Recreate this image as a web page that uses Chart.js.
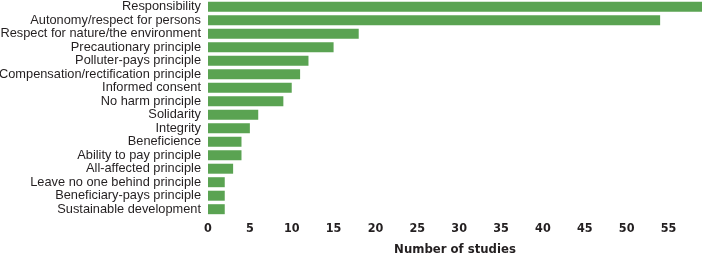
<!DOCTYPE html>
<html>
<head>
<meta charset="utf-8">
<script src="https://cdn.jsdelivr.net/npm/chart.js@4/dist/chart.umd.min.js"></script>
<style>
  html, body { margin: 0; padding: 0; background: #fff; }
  #wrap { width: 703px; height: 255px; }
</style>
</head>
<body>
<div id="wrap"><canvas id="chart"></canvas></div>
<script>
// values
const principles = [
  'Responsibility',
  'Autonomy/respect for persons',
  'Respect for nature/the environment',
  'Precautionary principle',
  'Polluter-pays principle',
  'Compensation/rectification principle',
  'Informed consent',
  'No harm principle',
  'Solidarity',
  'Integrity',
  'Beneficience',
  'Ability to pay principle',
  'All-affected principle',
  'Leave no one behind principle',
  'Beneficiary-pays principle',
  'Sustainable development'
];
const studyCounts = [59, 54, 18, 15, 12, 11, 10, 9, 6, 5, 4, 4, 3, 2, 2, 2];
const axisMax = 59;
const tickStep = 5;

const narrow = "'Liberation Sans Narrow', 'DejaVu Sans Condensed', 'Liberation Sans', sans-serif";

new Chart(document.getElementById('chart').getContext('2d'), {
  type: 'bar',
  data: {
    labels: principles,
    datasets: [{
      data: studyCounts,
      backgroundColor: '#5aa352',
      borderWidth: 0,
      categoryPercentage: 1,
      barPercentage: 0.74
    }]
  },
  options: {
    indexAxis: 'y',
    responsive: true,
    maintainAspectRatio: false,
    animation: false,
    layout: { padding: { top: 0, right: 1, bottom: 0, left: 0 } },
    plugins: {
      legend: { display: false },
      tooltip: { enabled: false }
    },
    scales: {
      y: {
        grid: { display: false, drawTicks: false },
        border: { display: false },
        afterFit: (scale) => {
          // fixed label column, no extra room above/below the bars
          scale.width = 208;
          scale.paddingTop = 0;
          scale.paddingBottom = 0;
        },
        ticks: {
          padding: 7,
          autoSkip: false,
          color: '#231f20',
          font: { family: "'Liberation Sans', Arial, sans-serif", size: 12.8 }
        }
      },
      x: {
        min: 0,
        max: axisMax,
        grid: { display: false, drawTicks: false },
        border: { display: false },
        ticks: {
          stepSize: tickStep,
          includeBounds: false,
          padding: 5,
          color: '#231f20',
          font: { family: narrow, size: 12.5, weight: 'bold' }
        },
        title: {
          display: true,
          text: 'Number of studies',
          color: '#231f20',
          padding: { top: 3, bottom: 0 },
          font: { family: narrow, size: 13, weight: 'bold', lineHeight: 0.85 }
        }
      }
    }
  }
});
</script>
</body>
</html>
